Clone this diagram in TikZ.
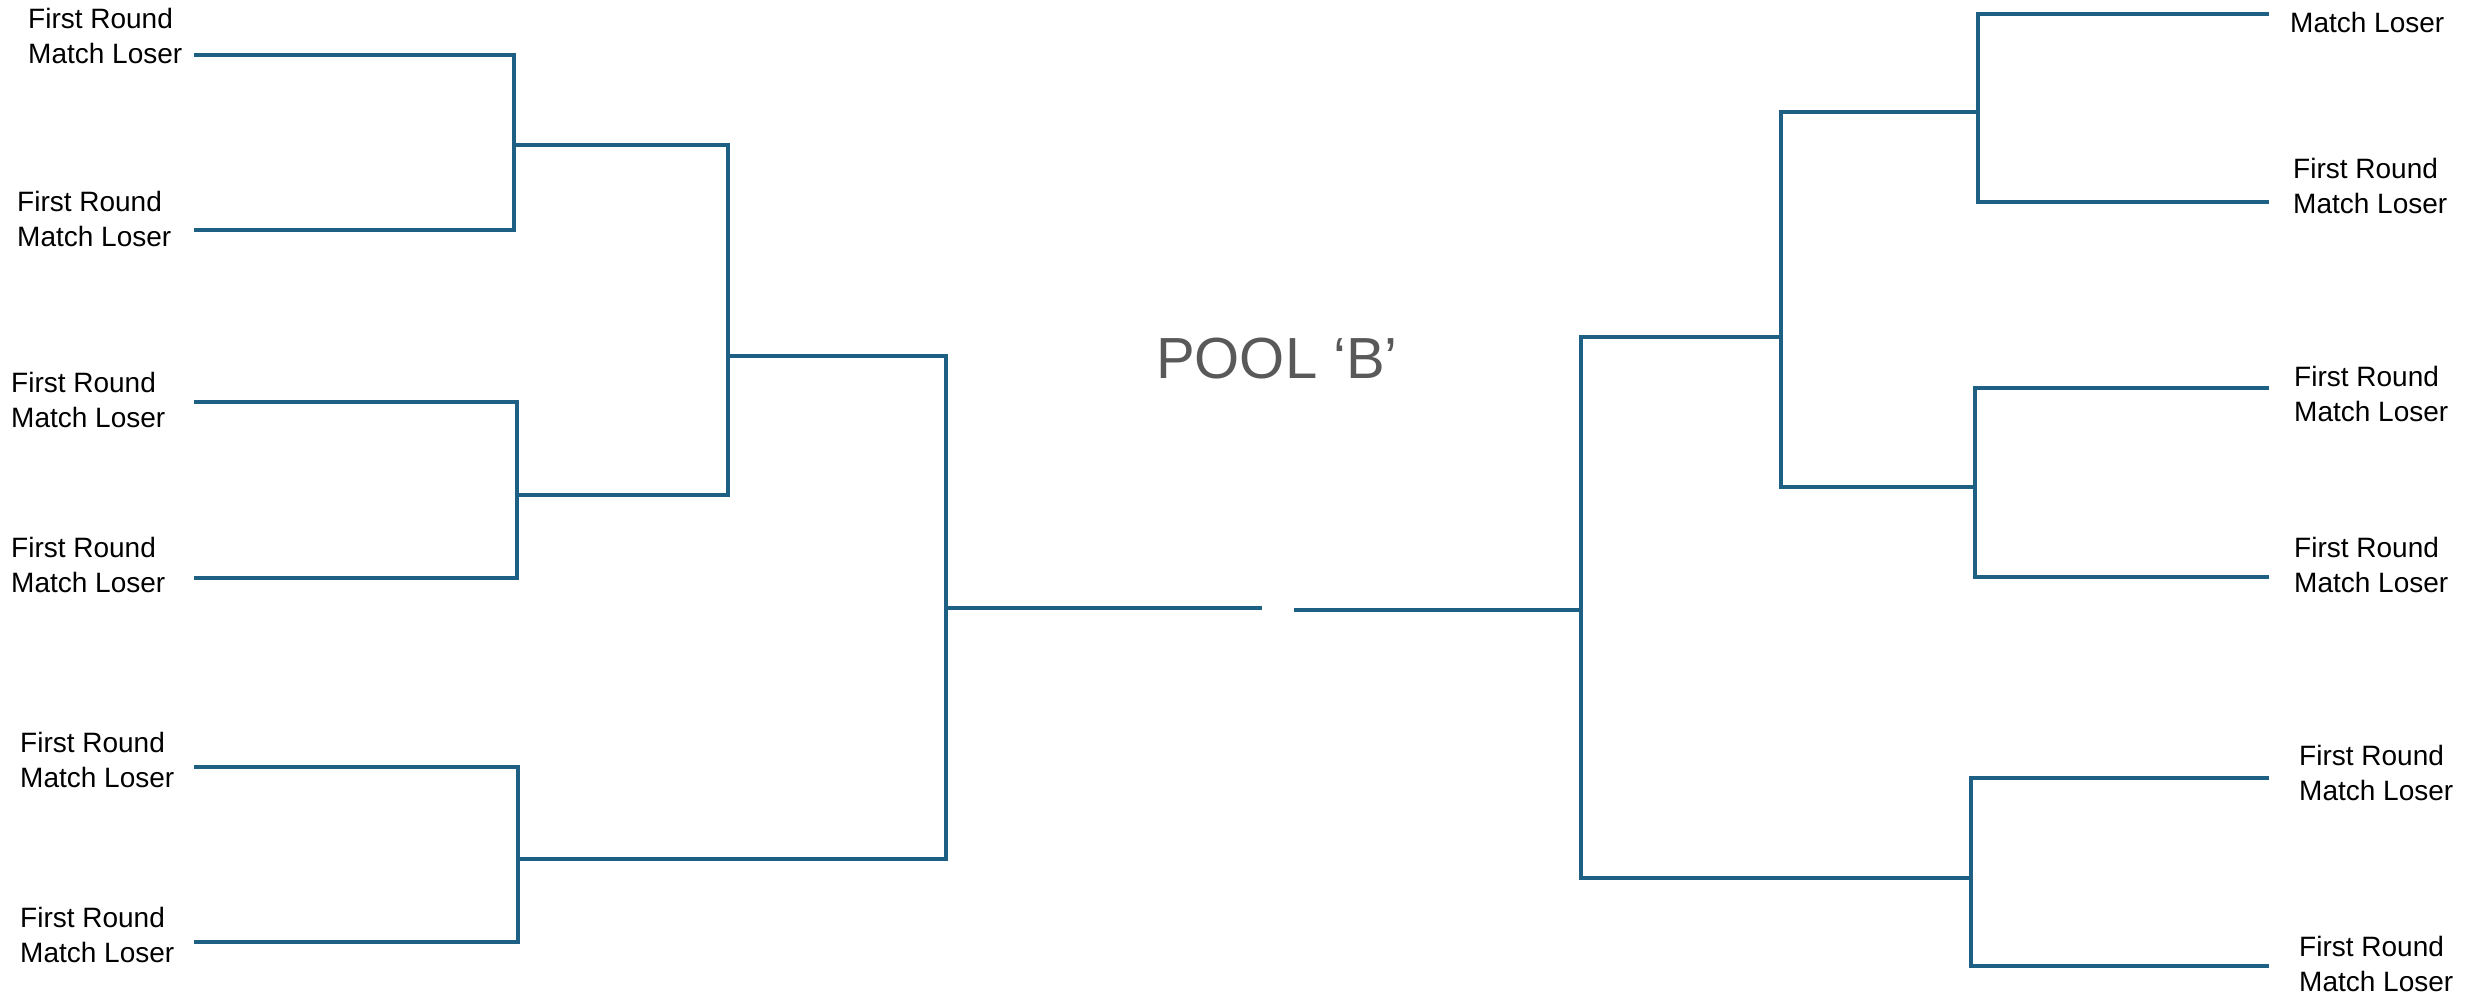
\documentclass[tikz,border=0pt]{standalone}
\usepackage{fontspec}
\setmainfont{Liberation Sans}
\definecolor{bline}{RGB}{30,96,132}
\definecolor{tgray}{RGB}{89,89,89}
\begin{document}
\begin{tikzpicture}[x=1pt,y=-1pt,
  br/.style={draw=bline,line width=3.6pt,line join=miter},
  lab/.style={anchor=west,align=left,inner sep=0pt,font=\fontsize{28}{35}\selectfont}]
\useasboundingbox (0,0) rectangle (2471,998);
% left labels
\node[lab] (t1) at (28,36) {First Round\\Match Loser};
\node[lab] (t2) at (17,219) {First Round\\Match Loser};
\node[lab] (t3) at (11,400) {First Round\\Match Loser};
\node[lab] (t4) at (11,565) {First Round\\Match Loser};
\node[lab] (t5) at (20,760) {First Round\\Match Loser};
\node[lab] (t6) at (20,935) {First Round\\Match Loser};
% right labels
\node[lab] (r1) at (2290,22) {Match Loser};
\node[lab] (r2) at (2293,186) {First Round\\Match Loser};
\node[lab] (r3) at (2294,394) {First Round\\Match Loser};
\node[lab] (r4) at (2294,565) {First Round\\Match Loser};
\node[lab] (r5) at (2299,773) {First Round\\Match Loser};
\node[lab] (r6) at (2299,964) {First Round\\Match Loser};
% title
\node[font=\fontsize{58}{70}\selectfont,text=tgray,inner sep=0pt] (title) at (1277,359) {POOL ‘B’};
% left coordinates
\coordinate (a1) at (194,55);
\coordinate (a2) at (194,230);
\coordinate (a3) at (194,402);
\coordinate (a4) at (194,578);
\coordinate (a5) at (194,767);
\coordinate (a6) at (194,942);
\coordinate (v1) at (514,145);
\coordinate (v2) at (517,495);
\coordinate (v3) at (728,356);
\coordinate (v4) at (518,859);
\coordinate (v5) at (946,608);
\coordinate (c1) at (1262,608);
% right coordinates
\coordinate (b1) at (2269,14);
\coordinate (b2) at (2269,202);
\coordinate (b3) at (2269,388);
\coordinate (b4) at (2269,577);
\coordinate (b5) at (2269,778);
\coordinate (b6) at (2269,966);
\coordinate (w1) at (1978,112);
\coordinate (w2) at (1975,487);
\coordinate (w3) at (1781,337);
\coordinate (w4) at (1971,878);
\coordinate (w5) at (1581,610);
\coordinate (c2) at (1294,610);
% left brackets
\draw[br] (a1) -- (a1 -| v1) -- (a2 -| v1) -- (a2);
\draw[br] (a3) -- (a3 -| v2) -- (a4 -| v2) -- (a4);
\draw[br] (a5) -- (a5 -| v4) -- (a6 -| v4) -- (a6);
\draw[br] (v1) -- (v1 -| v3) -- (v2 -| v3) -- (v2);
\draw[br] (v3) -- (v3 -| v5) -- (v4 -| v5) -- (v4);
\draw[br] (v5) -- (c1);
% right brackets
\draw[br] (b1) -- (b1 -| w1) -- (b2 -| w1) -- (b2);
\draw[br] (b3) -- (b3 -| w2) -- (b4 -| w2) -- (b4);
\draw[br] (b5) -- (b5 -| w4) -- (b6 -| w4) -- (b6);
\draw[br] (w1) -- (w1 -| w3) -- (w2 -| w3) -- (w2);
\draw[br] (w3) -- (w3 -| w5) -- (w4 -| w5) -- (w4);
\draw[br] (w5) -- (c2);
\end{tikzpicture}
\end{document}
